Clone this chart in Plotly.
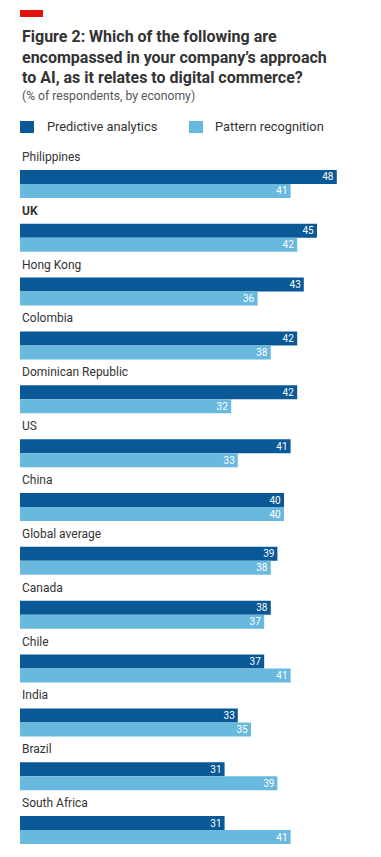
import plotly.graph_objects as go

countries = ["Philippines", "UK", "Hong Kong", "Colombia", "Dominican Republic", "US",
             "China", "Global average", "Canada", "Chile", "India", "Brazil", "South Africa"]
predictive = [48, 45, 43, 42, 42, 41, 40, 39, 38, 37, 33, 31, 31]
pattern = [41, 42, 36, 38, 32, 33, 40, 38, 37, 41, 35, 39, 41]
series_names = ["Predictive analytics", "Pattern recognition"]

DARK = "#0a5896"
LIGHT = "#69b9de"
TEXT = "#333333"

W, H = 381, 857
ML, MR, MT, MB = 20, 20, 157, 0
PW, PH = W - ML - MR, H - MT - MB


def px(x):
    return (x - ML) / PW


def py(y):
    return (H - MB - y) / PH


fig = go.Figure()
fig.add_trace(go.Bar(
    y=countries, x=predictive, orientation="h", name=series_names[0],
    marker=dict(color=DARK, line=dict(width=0)),
    text=[str(v) for v in predictive], textposition="inside",
    insidetextanchor="end", textangle=0,
    textfont=dict(color="white", size=10, family="Roboto"),
))
fig.add_trace(go.Bar(
    y=countries, x=pattern, orientation="h", name=series_names[1],
    marker=dict(color=LIGHT, line=dict(width=0)),
    text=[str(v) for v in pattern], textposition="inside",
    insidetextanchor="end", textangle=0,
    textfont=dict(color="white", size=10, family="Roboto"),
))

annotations = []
for c in countries:
    label = "<b>UK</b>" if c == "UK" else c
    annotations.append(dict(
        x=0, xref="paper", y=c, yref="y", yshift=27,
        text=label, showarrow=False, xanchor="left", yanchor="middle",
        font=dict(size=12, color=TEXT, family="Roboto"),
    ))

title_lines = ["Figure 2: Which of the following are",
               "encompassed in your company\u2019s approach",
               "to AI, as it relates to digital commerce?"]
for i, line in enumerate(title_lines):
    annotations.append(dict(
        x=px(20), xref="paper", y=py(36.5 + i * 20.5), yref="paper",
        text="<b>" + line + "</b>", showarrow=False, xanchor="left", yanchor="middle",
        font=dict(size=16, color=TEXT, family="Roboto"),
    ))
annotations.append(dict(
    x=px(20), xref="paper", y=py(96), yref="paper",
    text="(% of respondents, by economy)", showarrow=False, xanchor="left", yanchor="middle",
    font=dict(size=12.2, color="#555555", family="Roboto"),
))
annotations.append(dict(
    x=px(45), xref="paper", y=py(127), yref="paper",
    text=series_names[0], showarrow=False, xanchor="left", yanchor="middle",
    font=dict(size=12.8, color=TEXT, family="Roboto"),
))
annotations.append(dict(
    x=px(213), xref="paper", y=py(127), yref="paper",
    text=series_names[1], showarrow=False, xanchor="left", yanchor="middle",
    font=dict(size=12.8, color=TEXT, family="Roboto"),
))

shapes = [
    dict(type="rect", xref="paper", yref="paper", x0=px(20), x1=px(43), y0=py(17), y1=py(10),
         fillcolor="#e3120b", line=dict(width=0)),
    dict(type="rect", xref="paper", yref="paper", x0=px(20), x1=px(34), y0=py(133), y1=py(121),
         fillcolor=DARK, line=dict(width=0)),
    dict(type="rect", xref="paper", yref="paper", x0=px(189), x1=px(203), y0=py(133), y1=py(121),
         fillcolor=LIGHT, line=dict(width=0)),
]

fig.update_layout(
    width=W, height=H,
    margin=dict(l=ML, r=MR, t=MT, b=MB),
    paper_bgcolor="white", plot_bgcolor="white",
    barmode="group", bargap=0.48, bargroupgap=0.0,
    showlegend=False,
    xaxis=dict(range=[0, PW / 6.6], visible=False, fixedrange=True),
    yaxis=dict(categoryorder="array", categoryarray=countries, range=[12.5, -0.5],
               showticklabels=False, showgrid=False, zeroline=False, fixedrange=True),
    annotations=annotations, shapes=shapes,
    uniformtext=dict(minsize=9, mode="show"),
)

fig.write_html(
    "out.html",
    config={"displayModeBar": False},
    post_script="document.body.style.margin='0';document.body.style.overflow='hidden';",
)
